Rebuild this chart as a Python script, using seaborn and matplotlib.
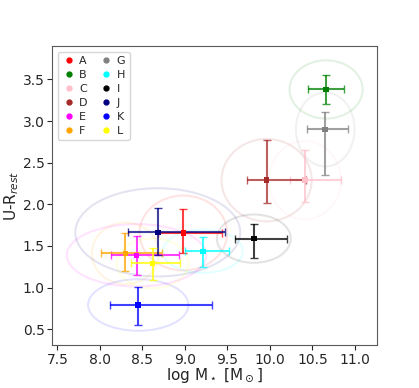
import numpy as np
import pandas as pd
import matplotlib
matplotlib.use("Agg")
import matplotlib.pyplot as plt
from matplotlib.patches import Ellipse
from matplotlib.lines import Line2D
import seaborn as sns

# sample labels and colours
names = ["A", "B", "C", "D", "E", "F", "G", "H", "I", "J", "K", "L"]
colors = ["red", "green", "pink", "brown", "magenta", "orange",
          "grey", "cyan", "black", "navy", "blue", "yellow"]

# stellar mass and U-R colour
log_mass = [8.98, 10.66, 10.41, 9.96, 8.43, 8.30, 10.65, 9.21, 9.81, 8.68, 8.45, 8.62]
u_r = [1.655, 3.38, 2.29, 2.29, 1.387, 1.41, 2.90, 1.435, 1.587, 1.663, 0.79, 1.29]

# asymmetric errors (lower, upper)
mass_lo = [0.30, 0.215, 0.17, 0.235, 0.30, 0.285, 0.21, 0.215, 0.22, 0.345, 0.33, 0.254]
mass_hi = [0.46, 0.215, 0.42, 0.46, 0.505, 0.43, 0.27, 0.31, 0.39, 0.79, 0.866, 0.325]
ur_lo = [0.245, 0.17, 0.265, 0.27, 0.236, 0.21, 0.545, 0.184, 0.23, 0.27, 0.24, 0.204]
ur_hi = [0.29, 0.176, 0.365, 0.48, 0.228, 0.24, 0.21, 0.168, 0.18, 0.295, 0.22, 0.187]

# ellipse sizes (full width / height in data units)
ell_w = [1.03, 0.86, 0.85, 1.06, 1.64, 0.79, 0.69, 0.94, 0.87, 1.94, 1.18, 0.84]
ell_h = [0.90, 0.70, 0.94, 0.99, 0.75, 0.74, 0.89, 0.52, 0.58, 1.06, 0.62, 0.60]

df = pd.DataFrame({"name": names, "mass": log_mass, "ur": u_r})

sns.set_style("ticks")
fig = plt.figure(figsize=(4.19, 3.88), dpi=100)
ax = fig.add_axes([0.125, 0.111, 0.775, 0.770])

# faint ellipses behind each point
for i in range(len(names)):
    ax.add_patch(Ellipse((log_mass[i], u_r[i]), ell_w[i], ell_h[i],
                         fill=False, edgecolor=colors[i], alpha=0.11, lw=1.5))

for i in range(len(names)):
    ax.errorbar(log_mass[i], u_r[i],
                xerr=[[mass_lo[i]], [mass_hi[i]]],
                yerr=[[ur_lo[i]], [ur_hi[i]]],
                fmt="none", ecolor=colors[i], elinewidth=1.5,
                capsize=3, alpha=0.75)

sns.scatterplot(data=df, x="mass", y="ur", hue="name",
                palette=colors, marker="s", s=16, linewidth=0,
                legend=False, ax=ax, zorder=5)

handles = [Line2D([], [], marker="o", linestyle="none", color=c,
                  markersize=3.5) for c in colors]
ax.legend(handles, names, loc="upper left", ncol=2, fontsize=8,
          handletextpad=0.3, columnspacing=1.1, labelspacing=0.35,
          handlelength=1.2, borderpad=0.4)

ax.set_xlim(7.44, 11.26)
ax.set_ylim(0.31, 3.90)
ax.set_xticks([7.5, 8.0, 8.5, 9.0, 9.5, 10.0, 10.5, 11.0])
ax.set_yticks([0.5, 1.0, 1.5, 2.0, 2.5, 3.0, 3.5])
ax.tick_params(labelsize=10, pad=2)
for s in ax.spines.values():
    s.set_color("0.35")

ax.set_xlabel(r"log M$_\star$ [M$_\odot$]", fontsize=11, labelpad=0)
ax.set_ylabel(r"U-R$_{rest}$", fontsize=11, labelpad=1)

fig.savefig("out.png", dpi=100)
